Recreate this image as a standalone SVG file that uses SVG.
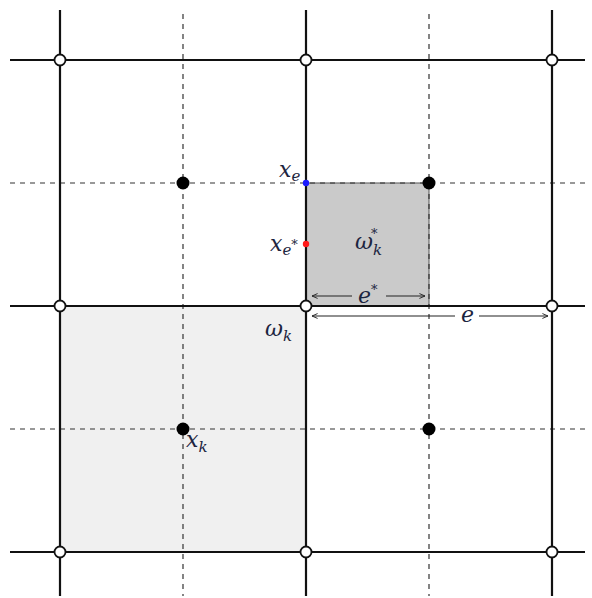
<svg xmlns="http://www.w3.org/2000/svg" width="592" height="598" viewBox="0 0 592 598">
<defs>
<marker id="ah" viewBox="0 0 10 10" refX="9" refY="5" markerWidth="7" markerHeight="7" orient="auto-start-reverse" markerUnits="userSpaceOnUse">
<path d="M1,1.5 L9,5 L1,8.5" fill="none" stroke="#222" stroke-width="1.3"/>
</marker>
</defs>
<style>
.solid{stroke:#111;stroke-width:2.2;fill:none}
.dash{stroke:#333;stroke-width:1.2;stroke-dasharray:5,5;fill:none}
.node{fill:#fff;stroke:#111;stroke-width:1.8}
.dot{fill:#000}
.dim{stroke:#222;stroke-width:1.1;fill:none}
.lbl{font-family:"DejaVu Serif",serif;font-style:italic;fill:#1c2540;font-size:22px}
.sub{font-size:15px}
.sup{font-size:13px;font-style:normal}
</style>
<rect width="592" height="598" fill="#fff"/>
<g id="cells">
<rect x="60" y="306" width="246" height="246" fill="#f0f0f0"/>
<rect x="306" y="183" width="123" height="123" fill="#cacaca" stroke="#555" stroke-width="1"/>
</g>
<g id="connectors">
<line class="dash" x1="10" y1="183" x2="586" y2="183"/>
<line class="dash" x1="10" y1="429" x2="586" y2="429"/>
<line class="dash" x1="183" y1="14" x2="183" y2="596"/>
<line class="dash" x1="429" y1="14" x2="429" y2="596"/>
<line class="solid" x1="10" y1="60" x2="585" y2="60"/>
<line class="solid" x1="10" y1="306" x2="585" y2="306"/>
<line class="solid" x1="10" y1="552" x2="585" y2="552"/>
<line class="solid" x1="60" y1="10" x2="60" y2="596"/>
<line class="solid" x1="306" y1="10" x2="306" y2="596"/>
<line class="solid" x1="552" y1="10" x2="552" y2="596"/>
<line class="dim" x1="312" y1="296" x2="352" y2="296" marker-start="url(#ah)"/>
<line class="dim" x1="386" y1="296" x2="425" y2="296" marker-end="url(#ah)"/>
<line class="dim" x1="312" y1="316" x2="455" y2="316" marker-start="url(#ah)"/>
<line class="dim" x1="479" y1="316" x2="548" y2="316" marker-end="url(#ah)"/>
</g>
<g id="vertices">
<circle class="node" cx="60" cy="60" r="5.5"/>
<circle class="node" cx="306" cy="60" r="5.5"/>
<circle class="node" cx="552" cy="60" r="5.5"/>
<circle class="node" cx="60" cy="306" r="5.5"/>
<circle class="node" cx="306" cy="306" r="5.5"/>
<circle class="node" cx="552" cy="306" r="5.5"/>
<circle class="node" cx="60" cy="552" r="5.5"/>
<circle class="node" cx="306" cy="552" r="5.5"/>
<circle class="node" cx="552" cy="552" r="5.5"/>
</g>
<g id="centers">
<circle class="dot" cx="183" cy="183" r="6.5"/>
<circle class="dot" cx="429" cy="183" r="6.5"/>
<circle class="dot" cx="183" cy="429" r="6.5"/>
<circle class="dot" cx="429" cy="429" r="6.5"/>
</g>
<g id="edge-points">
<circle cx="306" cy="183" r="3.2" fill="#1a1aff"/>
<circle cx="306" cy="244" r="3.2" fill="#ff1a1a"/>
</g>
<g id="labels">
<text class="lbl" x="279" y="177">x<tspan class="sub" dy="4">e</tspan></text>
<text class="lbl" x="270" y="251">x<tspan class="sub" dy="4">e</tspan><tspan class="sup" dy="-6">*</tspan></text>
<text class="lbl" x="355" y="249">ω<tspan class="sub" dy="6">k</tspan></text>
<text class="lbl sup" x="371" y="238">*</text>
<text class="lbl" x="265" y="336">ω<tspan class="sub" dy="5">k</tspan></text>
<text class="lbl" x="186" y="447">x<tspan class="sub" dy="5">k</tspan></text>
<text class="lbl" x="358" y="303">e<tspan class="sup" dy="-9">*</tspan></text>
<text class="lbl" x="461" y="322">e</text>
</g>
</svg>
